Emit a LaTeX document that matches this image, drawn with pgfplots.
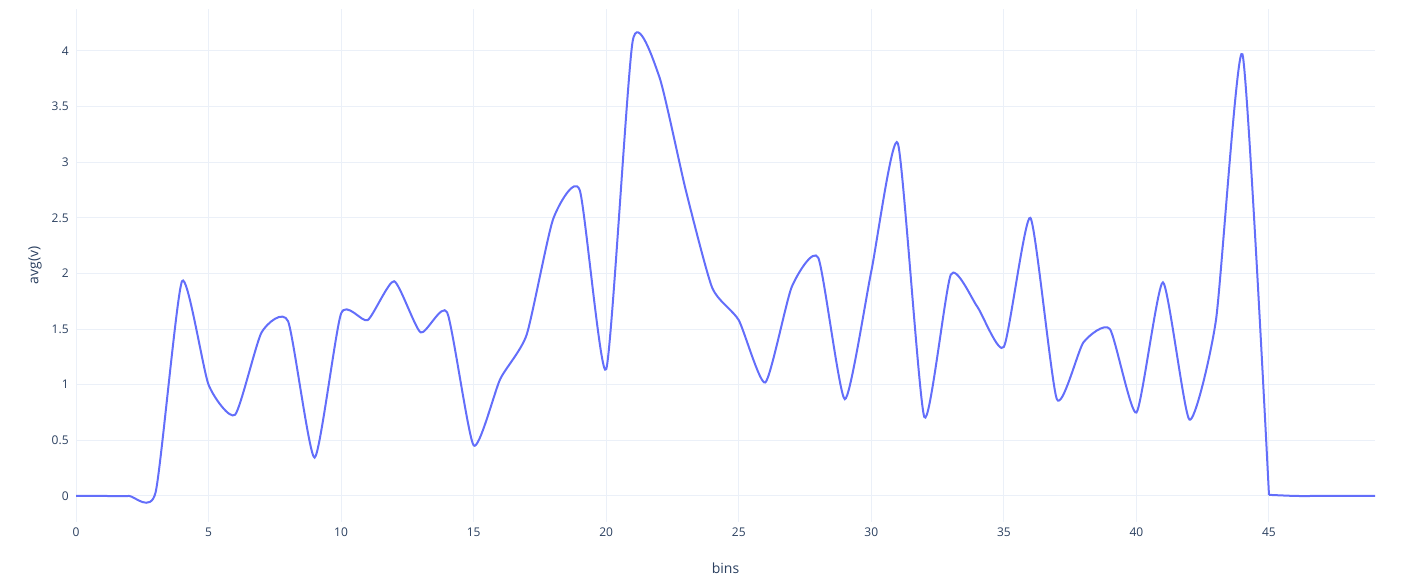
\documentclass[border=0pt]{standalone}
\usepackage{pgfplots}
\pgfplotsset{compat=1.18}
\usepackage{fontspec}
\setmainfont{Open Sans}
\definecolor{gridc}{HTML}{EBF0F8}
\definecolor{linec}{HTML}{636EFA}
\definecolor{txtc}{HTML}{2A3F5F}
\pgfplotstableread{
x y
0 0
1 0
2 0
3 0.03
4 1.93
5 1.0
6 0.73
7 1.47
8 1.57
9 0.345
10 1.64
11 1.58
12 1.93
13 1.47
14 1.65
15 0.455
16 1.05
17 1.45
18 2.49
19 2.75
20 1.14
21 4.09
22 3.77
23 2.75
24 1.87
25 1.58
26 1.02
27 1.88
28 2.14
29 0.87
30 2.02
31 3.17
32 0.71
33 1.99
34 1.70
35 1.34
36 2.50
37 0.87
38 1.38
39 1.50
40 0.75
41 1.92
42 0.686
43 1.58
44 3.97
45 0.01
}\datatable
\pgfplotstableread{
x y
45 0.01
46 0
47 0
48 0
49 0
}\tailtable
\begin{document}
\begin{tikzpicture}
\begin{axis}[
  scale only axis,
  width=974.25pt, height=384.75pt,
  xmin=0, xmax=49,
  ymin=-0.234, ymax=4.377,
  xtick={0,5,...,45},
  ytick={0,0.5,...,4},
  axis line style={draw=none},
  tick style={draw=none},
  grid=major,
  major grid style={color=gridc, line width=0.75pt},
  extra y ticks={0},
  extra y tick labels={},
  extra y tick style={grid style={color=gridc, line width=1.5pt}},
  /pgf/number format/assume math mode=true,
  ticklabel style={font=\fontsize{9pt}{10pt}\selectfont, text=txtc},
  xticklabel style={yshift=-1pt},
  yticklabel style={xshift=-2pt},
  every axis x label/.style={at={(axis description cs:0.5,0)}, anchor=center, yshift=-34.5pt},
  every axis y label/.style={at={([xshift=-30.75pt]axis description cs:0,0.5)}, anchor=center, rotate=90},
  label style={font=\fontsize{10.5pt}{12pt}\selectfont, text=txtc},
  xlabel={bins},
  ylabel={avg(v)},
]
\addplot[color=linec, line width=1.5pt, smooth, tension=0.35] table[x=x, y=y] {\datatable};
\addplot[color=linec, line width=1.5pt, smooth, tension=0.35] table[x=x, y=y] {\tailtable};
\coordinate (sw) at (rel axis cs:0,0);
\coordinate (ne) at (rel axis cs:1,1);
\end{axis}
\path ([xshift=-57pt, yshift=-45.75pt]sw) rectangle ([xshift=39pt, yshift=6.75pt]ne);
\end{tikzpicture}
\end{document}
